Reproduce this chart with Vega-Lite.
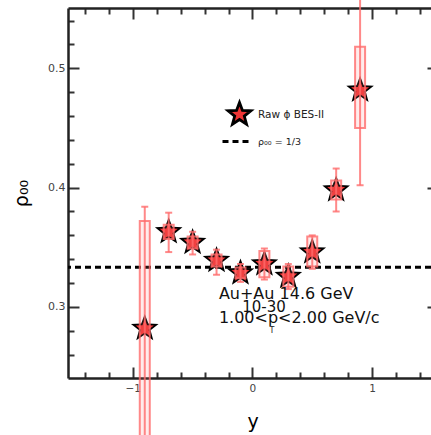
{
  "$schema": "https://vega.github.io/schema/vega-lite/v6.json",
  "width": 363,
  "height": 370,
  "autosize": {"type": "none"},
  "padding": {"left": 68, "top": 8, "right": 0, "bottom": 57},
  "background": "white",
  "config": {"view": {"stroke": null}, "font": "DejaVu Sans", "axis": {"grid": false}},
  "data": {"values": [
    {"rapidity": -0.9, "rho": 0.282, "statLo": 0.180, "statHi": 0.384, "sysLo": 0.192, "sysHi": 0.372},
    {"rapidity": -0.7, "rho": 0.363, "statLo": 0.346, "statHi": 0.379, "sysLo": 0.357, "sysHi": 0.369},
    {"rapidity": -0.5, "rho": 0.354, "statLo": 0.344, "statHi": 0.363, "sysLo": 0.349, "sysHi": 0.359},
    {"rapidity": -0.3, "rho": 0.339, "statLo": 0.327, "statHi": 0.348, "sysLo": 0.334, "sysHi": 0.344},
    {"rapidity": -0.1, "rho": 0.3285, "statLo": 0.321, "statHi": 0.336, "sysLo": 0.324, "sysHi": 0.333},
    {"rapidity": 0.1, "rho": 0.336, "statLo": 0.323, "statHi": 0.349, "sysLo": 0.325, "sysHi": 0.347},
    {"rapidity": 0.3, "rho": 0.3255, "statLo": 0.315, "statHi": 0.336, "sysLo": 0.317, "sysHi": 0.334},
    {"rapidity": 0.5, "rho": 0.346, "statLo": 0.332, "statHi": 0.360, "sysLo": 0.334, "sysHi": 0.359},
    {"rapidity": 0.7, "rho": 0.398, "statLo": 0.380, "statHi": 0.416, "sysLo": 0.390, "sysHi": 0.406},
    {"rapidity": 0.9, "rho": 0.4816, "statLo": 0.402, "statHi": 0.562, "sysLo": 0.450, "sysHi": 0.518}
  ]},
  "resolve": {"axis": {"x": "independent", "y": "independent"}},
  "layer": [
    {
      "data": {"values": [{"ref": 0.3333333}]},
      "mark": {"type": "rule", "strokeWidth": 3, "color": "black"},
      "encoding": {
        "y": {"field": "ref", "type": "quantitative", "scale": {"domain": [0.2405, 0.5505], "nice": false, "zero": false}, "axis": null},
        "strokeDash": {"datum": "ρ₀₀ = 1/3", "type": "nominal", "scale": {"range": [[6, 4]]},
          "legend": {"orient": "none", "legendX": 153, "legendY": 117.5, "title": null, "padding": 0,
            "symbolType": "stroke", "symbolSize": 841, "symbolStrokeWidth": 3, "symbolStrokeColor": "black",
            "labelFont": "DejaVu Sans", "labelFontSize": 9.5, "labelColor": "#222", "labelOffset": 5}}
      }
    },
    {
      "mark": {"type": "point", "shape": "M0,-1L0.2469,-0.3398L0.9511,-0.309L0.3995,0.1298L0.5878,0.809L0,0.42L-0.5878,0.809L-0.3995,0.1298L-0.9511,-0.309L-0.2469,-0.3398Z", "filled": true, "size": 841, "color": "black", "opacity": 1},
      "encoding": {
        "x": {"field": "rapidity", "type": "quantitative", "scale": {"domain": [-1.5, 1.451], "nice": false, "zero": false},
          "axis": {"orient": "bottom", "values": [-1.4, -1.2, -1, -0.8, -0.6, -0.4, -0.2, 0, 0.2, 0.4, 0.6, 0.8, 1, 1.2, 1.4],
            "labelExpr": "abs(datum.value-round(datum.value))<0.001 ? format(datum.value,'d') : ''",
            "tickSize": {"condition": {"test": "abs(datum.value-round(datum.value))<0.001", "value": -11}, "value": -6},
            "tickWidth": 2, "tickColor": "#333", "domainColor": "#222", "domainWidth": 2.5,
            "labelFont": "DejaVu Sans", "labelFontSize": 10.5, "labelColor": "#444", "labelPadding": 16,
            "title": "y", "titleFont": "DejaVu Sans", "titleFontSize": 19, "titleFontWeight": "normal", "titleColor": "black",
            "titleX": 184.5, "titleY": 49.5, "titleBaseline": "alphabetic", "titleAlign": "center"}},
        "y": {"field": "rho", "type": "quantitative", "scale": {"domain": [0.2405, 0.5505], "nice": false, "zero": false},
          "axis": {"orient": "left", "values": [0.26, 0.28, 0.3, 0.32, 0.34, 0.36, 0.38, 0.4, 0.42, 0.44, 0.46, 0.48, 0.5, 0.52, 0.54],
            "labelExpr": "abs(datum.value*10-round(datum.value*10))<0.001 ? format(datum.value,'.1f') : ''",
            "tickSize": {"condition": {"test": "abs(datum.value*10-round(datum.value*10))<0.001", "value": -11}, "value": -6},
            "tickWidth": 2, "tickColor": "#333", "domainColor": "#222", "domainWidth": 2.5,
            "labelFont": "DejaVu Sans", "labelFontSize": 11, "labelColor": "#444", "labelPadding": 14,
            "title": "ρ₀₀", "titleFont": "DejaVu Sans", "titleFontSize": 19, "titleFontWeight": "normal", "titleColor": "black",
            "titleX": -47, "titleBaseline": "middle", "titleAlign": "center"}}
      }
    },
    {
      "mark": {"type": "point", "shape": "M0,-1L0.2469,-0.3398L0.9511,-0.309L0.3995,0.1298L0.5878,0.809L0,0.42L-0.5878,0.809L-0.3995,0.1298L-0.9511,-0.309L-0.2469,-0.3398Z", "filled": true, "size": 361, "opacity": 1, "strokeWidth": 0},
      "encoding": {
        "x": {"field": "rapidity", "type": "quantitative", "scale": {"domain": [-1.5, 1.451], "nice": false, "zero": false},
          "axis": {"orient": "top", "values": [-1.4, -1.2, -1, -0.8, -0.6, -0.4, -0.2, 0, 0.2, 0.4, 0.6, 0.8, 1, 1.2, 1.4],
            "labels": false, "title": null,
            "tickSize": {"condition": {"test": "abs(datum.value-round(datum.value))<0.001", "value": -11}, "value": -6},
            "tickWidth": 2, "tickColor": "#333", "domainColor": "#222", "domainWidth": 2.5}},
        "y": {"field": "rho", "type": "quantitative", "scale": {"domain": [0.2405, 0.5505], "nice": false, "zero": false},
          "axis": {"orient": "right", "values": [0.3, 0.4, 0.5], "labels": false, "title": null, "domain": false,
            "tickSize": -4, "tickWidth": 2, "tickColor": "#333"}},
        "fill": {"datum": "Raw ϕ BES-II", "type": "nominal", "scale": {"range": ["#ee3535"]},
          "legend": {"orient": "none", "legendX": 158, "legendY": 93, "title": null, "padding": 0,
            "symbolType": "M0,-1L0.2469,-0.3398L0.9511,-0.309L0.3995,0.1298L0.5878,0.809L0,0.42L-0.5878,0.809L-0.3995,0.1298L-0.9511,-0.309L-0.2469,-0.3398Z",
            "symbolSize": 576, "symbolStrokeColor": "black", "symbolStrokeWidth": 2.8, "symbolFillColor": "#ee3535",
            "labelFont": "DejaVu Sans", "labelFontSize": 10.5, "labelColor": "#222", "labelOffset": 5}}
      }
    },
    {
      "mark": {"type": "bar", "size": 10, "fill": "#ff8080", "fillOpacity": 0.15, "stroke": "#ff6b6b", "strokeWidth": 2, "strokeOpacity": 0.8},
      "encoding": {
        "x": {"field": "rapidity", "type": "quantitative", "scale": {"domain": [-1.5, 1.451], "nice": false, "zero": false}, "axis": null},
        "y": {"field": "sysLo", "type": "quantitative", "scale": {"domain": [0.2405, 0.5505], "nice": false, "zero": false}, "axis": null},
        "y2": {"field": "sysHi"}
      }
    },
    {
      "mark": {"type": "errorbar", "ticks": {"size": 7, "thickness": 2}, "thickness": 2, "color": "#ff6b6b", "opacity": 0.8},
      "encoding": {
        "x": {"field": "rapidity", "type": "quantitative", "scale": {"domain": [-1.5, 1.451], "nice": false, "zero": false}, "axis": null},
        "y": {"field": "statLo", "type": "quantitative", "scale": {"domain": [0.2405, 0.5505], "nice": false, "zero": false}, "axis": null},
        "y2": {"field": "statHi"}
      }
    },
    {
      "data": {"values": [{}]},
      "mark": {"type": "text", "font": "DejaVu Sans", "fontSize": 16, "align": "left", "baseline": "alphabetic", "fill": "#111"},
      "encoding": {"x": {"datum": -0.2805, "axis": null}, "y": {"datum": 0.3067, "axis": null}, "text": {"value": "Au+Au 14.6 GeV"}}
    },
    {
      "data": {"values": [{}]},
      "mark": {"type": "text", "font": "DejaVu Sans", "fontSize": 15, "align": "left", "baseline": "alphabetic", "fill": "#111"},
      "encoding": {"x": {"datum": -0.085, "axis": null}, "y": {"datum": 0.2961, "axis": null}, "text": {"value": "10-30"}}
    },
    {
      "data": {"values": [{}]},
      "mark": {"type": "text", "font": "DejaVu Sans", "fontSize": 16, "align": "left", "baseline": "alphabetic", "fill": "#111"},
      "encoding": {"x": {"datum": -0.2805, "axis": null}, "y": {"datum": 0.2863, "axis": null}, "text": {"value": "1.00<p<2.00 GeV/c"}}
    },
    {
      "data": {"values": [{}]},
      "mark": {"type": "text", "font": "DejaVu Sans", "fontSize": 8, "align": "left", "baseline": "alphabetic", "fill": "#222"},
      "encoding": {"x": {"datum": 0.142, "axis": null}, "y": {"datum": 0.2782, "axis": null}, "text": {"value": "T"}}
    }
  ]
}
